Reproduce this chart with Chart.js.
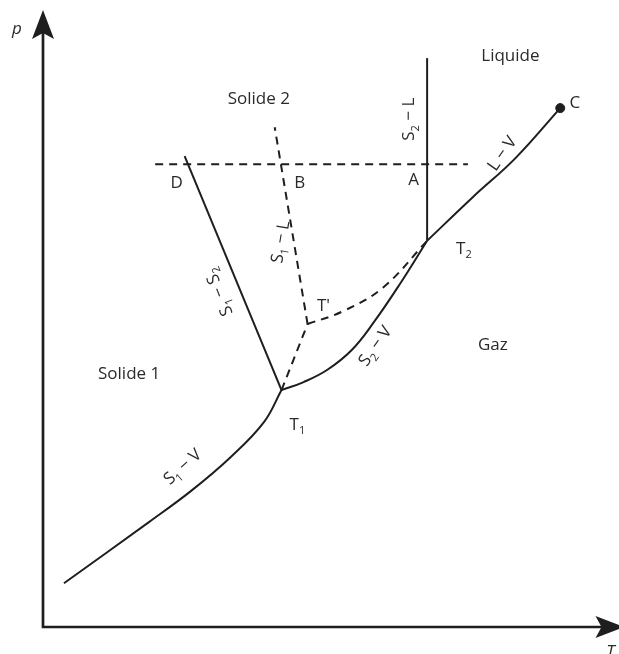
<!DOCTYPE html>
<html>
<head>
<meta charset="utf-8">
<script src="https://cdn.jsdelivr.net/npm/chart.js@4/dist/chart.umd.min.js"></script>
<style>
html, body { margin: 0; padding: 0; background: #fff; }
</style>
</head>
<body>
<canvas id="chart" width="619" height="654"></canvas>
<script>
// Courbes d'équilibre (T en abscisse, p en ordonnée)
const s1v_T = [3.7, 18.7, 26.2, 33.2, 39.0, 42.1];
const s1v_p = [7.1, 17.0, 22.1, 27.6, 33.2, 38.4];

const s2v_T = [42.1, 46.0, 50.2, 54.5, 58.4, 63.0, 67.8];
const s2v_p = [38.4, 39.7, 41.7, 44.9, 49.4, 55.6, 62.6];

const lv_T = [67.8, 75.9, 83.4, 91.3];
const lv_p = [62.6, 69.7, 76.0, 84.1];

const s2l_T = [67.8, 67.8];
const s2l_p = [62.6, 92.2];

const s1s2_T = [42.1, 25.0];
const s1s2_p = [38.4, 76.3];

// courbes métastables (pointillés)
const s1l_T = [46.7, 40.9];
const s1l_p = [49.1, 81.0];

const t1tp_T = [42.1, 46.7];
const t1tp_p = [38.4, 49.1];

const tpt2_T = [46.7, 53.0, 60.0, 67.8];
const tpt2_p = [49.1, 51.2, 55.0, 62.6];

const isobare_T = [19.8, 75.0];
const isobare_p = [75.0, 75.0];

// point critique
const critique_T = [91.3];
const critique_p = [84.1];

const INK = '#1e1e1e';

function pts(ts, ps) {
    return ts.map((t, i) => ({x: t, y: ps[i]}));
}

function trait(ts, ps, pointille, lisse) {
    return {
        data: pts(ts, ps),
        showLine: true,
        borderColor: INK,
        borderWidth: 2,
        borderDash: pointille ? [8, 6] : [],
        pointRadius: 0,
        tension: lisse ? 0.4 : 0,
        clip: false
    };
}

// Etiquettes : "_x" = indice
const etiquettes = [
    {t: 82.5, p: 92.5, txt: ['Liquide']},
    {t: 38.1, p: 85.6, txt: ['Solide 2']},
    {t: 79.4, p: 45.7, txt: ['Gaz']},
    {t: 15.2, p: 41.0, txt: ['Solide 1']},
    {t: 23.6, p: 72.0, txt: ['D']},
    {t: 45.3, p: 72.0, txt: ['B']},
    {t: 65.4, p: 72.4, txt: ['A']},
    {t: 74.3, p: 61.3, txt: ['T', '_2']},
    {t: 49.5, p: 52.0, txt: ['T\'']},
    {t: 44.9, p: 32.7, txt: ['T', '_1']},
    {t: 93.9, p: 84.9, txt: ['C']},
    {t: 64.7, p: 82.3, rot: -90, txt: ['S', '_2', ' − L']},
    {t: 42.0, p: 62.4, rot: -80, txt: ['S', '_1', ' − L']},
    {t: 31.1, p: 54.3, rot: -112, txt: ['S', '_1', ' − S', '_2']},
    {t: 58.7, p: 45.5, rot: -55, txt: ['S', '_2', ' − V']},
    {t: 81.1, p: 76.7, rot: -55, txt: ['L − V']},
    {t: 24.7, p: 25.9, rot: -42, txt: ['S', '_1', ' − V']}
];

const FONT = '17px "Open Sans", "DejaVu Sans", sans-serif';
const FONT_SUB = '11px "Open Sans", "DejaVu Sans", sans-serif';

function texte(ctx, parts, cx, cy, rot) {
    ctx.save();
    ctx.translate(cx, cy);
    ctx.rotate((rot || 0) * Math.PI / 180);
    ctx.fillStyle = '#2a2a2a';
    ctx.textBaseline = 'middle';
    ctx.textAlign = 'left';
    let w = 0;
    parts.forEach(s => {
        const sub = s[0] === '_';
        ctx.font = sub ? FONT_SUB : FONT;
        w += ctx.measureText(sub ? s.slice(1) : s).width;
    });
    let xx = -w / 2;
    parts.forEach(s => {
        const sub = s[0] === '_';
        const str = sub ? s.slice(1) : s;
        ctx.font = sub ? FONT_SUB : FONT;
        ctx.fillText(str, xx, sub ? 6 : 0);
        xx += ctx.measureText(str).width;
    });
    ctx.restore();
}

const decor = {
    id: 'decor',
    afterDatasetsDraw(chart) {
        const {ctx, chartArea: a, scales: {x, y}} = chart;
        ctx.save();
        // axes p et T avec flèches
        ctx.strokeStyle = INK;
        ctx.lineWidth = 2.7;
        ctx.beginPath();
        ctx.moveTo(a.left, a.top + 22);
        ctx.lineTo(a.left, a.bottom);
        ctx.lineTo(a.right - 10, a.bottom);
        ctx.stroke();
        ctx.fillStyle = INK;
        ctx.beginPath();
        ctx.moveTo(a.left, a.top);
        ctx.lineTo(a.left + 11, a.top + 29);
        ctx.lineTo(a.left, a.top + 23);
        ctx.lineTo(a.left - 11, a.top + 29);
        ctx.closePath();
        ctx.fill();
        ctx.beginPath();
        ctx.moveTo(a.right + 11, a.bottom);
        ctx.lineTo(a.right - 18, a.bottom - 11);
        ctx.lineTo(a.right - 12, a.bottom);
        ctx.lineTo(a.right - 18, a.bottom + 11);
        ctx.closePath();
        ctx.fill();
        // noms des axes
        ctx.fillStyle = '#2a2a2a';
        ctx.font = 'italic 17px "Open Sans", "DejaVu Sans", sans-serif';
        ctx.textAlign = 'center';
        ctx.textBaseline = 'middle';
        ctx.fillText('p', a.left - 26, a.top + 19);
        ctx.fillText('T', a.right - 3, a.bottom + 25);
        ctx.restore();
        etiquettes.forEach(e => {
            texte(ctx, e.txt, x.getPixelForValue(e.t), y.getPixelForValue(e.p), e.rot);
        });
    }
};

new Chart(document.getElementById('chart').getContext('2d'), {
    type: 'scatter',
    data: {
        datasets: [
            trait(s1v_T, s1v_p, false, true),
            trait(s2v_T, s2v_p, false, true),
            trait(lv_T, lv_p, false, true),
            trait(s2l_T, s2l_p, false, false),
            trait(s1s2_T, s1s2_p, false, false),
            trait(s1l_T, s1l_p, true, false),
            trait(t1tp_T, t1tp_p, true, false),
            trait(tpt2_T, tpt2_p, true, true),
            trait(isobare_T, isobare_p, true, false),
            {
                data: pts(critique_T, critique_p),
                pointRadius: 4.5,
                pointBackgroundColor: INK,
                pointBorderColor: INK,
                showLine: false,
                clip: false
            }
        ]
    },
    options: {
        responsive: false,
        animation: false,
        devicePixelRatio: 1,
        layout: {padding: {left: 43, right: 0, top: 10, bottom: 27}},
        scales: {
            x: {type: 'linear', min: 0, max: 100.7, display: false},
            y: {type: 'linear', min: 0, max: 100, display: false}
        },
        plugins: {
            legend: {display: false},
            tooltip: {enabled: false}
        }
    },
    plugins: [decor]
});
</script>
</body>
</html>
